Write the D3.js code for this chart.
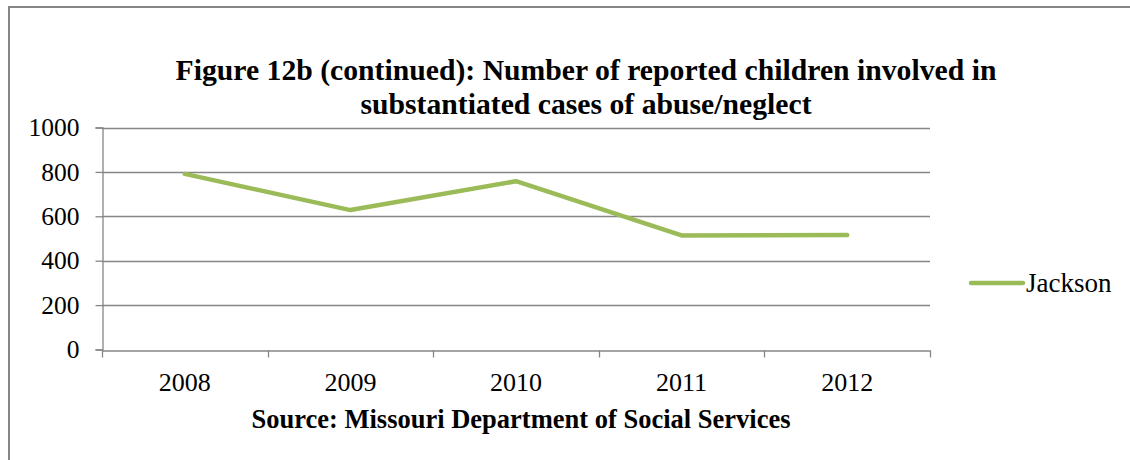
<!DOCTYPE html>
<html>
<head>
<meta charset="utf-8">
<script src="https://cdn.jsdelivr.net/npm/d3@7"></script>
<style>
  html, body { margin: 0; padding: 0; background: #fff; }
  svg { display: block; }
  text { font-family: "Liberation Serif", "Times New Roman", serif; fill: #000; }
</style>
</head>
<body>
<svg id="chart" width="1130" height="460"></svg>
<script>
// Children involved in substantiated abuse/neglect cases, Jackson county
const years = ["2008", "2009", "2010", "2011", "2012"];
const jackson = [791, 628, 758, 514, 516];
const yTicks = [0, 200, 400, 600, 800, 1000];
const seriesName = "Jackson";
const titleLines = [
  "Figure 12b (continued): Number of reported children involved in",
  "substantiated cases of abuse/neglect"
];
const sourceText = "Source: Missouri Department of Social Services";

const svg = d3.select("#chart");
const W = 1130, H = 460;
const plot = { left: 102, right: 930, top: 127.5, bottom: 349.5 };
const gridColor = "#868686";
const lineColor = "#9BBB59";
const serif = '"Liberation Serif", "Times New Roman", serif';

// outer chart frame
svg.append("rect")
  .attr("x", 9).attr("y", 7)
  .attr("width", W + 20).attr("height", H + 20)
  .attr("fill", "none")
  .attr("stroke", gridColor)
  .attr("stroke-width", 2);

const x = d3.scaleBand().domain(years).range([plot.left, plot.right]);
const y = d3.scaleLinear().domain([0, 1000]).range([plot.bottom, plot.top]);

// horizontal gridlines
svg.append("g")
  .selectAll("line")
  .data(yTicks.filter(d => d > 0))
  .join("line")
  .attr("x1", plot.left).attr("x2", plot.right)
  .attr("y1", d => Math.round(y(d)) + 0.5)
  .attr("y2", d => Math.round(y(d)) + 0.5)
  .attr("stroke", gridColor)
  .attr("stroke-width", 1.3);

// y axis
const yAxis = svg.append("g")
  .attr("transform", `translate(${plot.left + 0.5},0)`)
  .call(d3.axisLeft(y).tickValues(yTicks).tickSize(7).tickPadding(16).tickFormat(d3.format("d")));
yAxis.select(".domain").attr("stroke", gridColor).attr("stroke-width", 1.3);
yAxis.selectAll(".tick line").attr("stroke", gridColor).attr("stroke-width", 1.3);
yAxis.selectAll(".tick text")
  .style("font-family", serif)
  .style("font-size", "25.5px").attr("fill", "#000");

// x axis
const xAxis = svg.append("g")
  .attr("transform", `translate(0,${Math.round(plot.bottom) + 0.5})`)
  .call(d3.axisBottom(x).tickSize(0).tickPadding(22));
xAxis.select(".domain").attr("stroke", gridColor).attr("stroke-width", 1.3);
xAxis.selectAll(".tick text")
  .style("font-family", serif)
  .style("font-size", "26px").attr("fill", "#000");

// category boundary tick marks
const boundaries = years.map(d => x(d)).concat([x(years[years.length - 1]) + x.bandwidth()]);
xAxis.append("g")
  .selectAll("line")
  .data(boundaries)
  .join("line")
  .attr("x1", d => Math.round(d) + 0.5).attr("x2", d => Math.round(d) + 0.5)
  .attr("y1", 0).attr("y2", 7)
  .attr("stroke", gridColor)
  .attr("stroke-width", 1.3);

// data line
const line = d3.line()
  .x((d, i) => x(years[i]) + x.bandwidth() / 2)
  .y(d => y(d));
svg.append("path")
  .datum(jackson)
  .attr("d", line)
  .attr("fill", "none")
  .attr("stroke", lineColor)
  .attr("stroke-width", 4.5)
  .attr("stroke-linejoin", "round")
  .attr("stroke-linecap", "round");

// title
svg.append("text")
  .attr("text-anchor", "middle")
  .style("font-size", "29.7px")
  .style("font-weight", "bold")
  .selectAll("tspan")
  .data(titleLines)
  .join("tspan")
  .attr("x", 586)
  .attr("y", (d, i) => 80 + i * 34)
  .text(d => d);

// source caption
svg.append("text")
  .attr("x", (plot.left + plot.right) / 2 + 5)
  .attr("y", 428)
  .attr("text-anchor", "middle")
  .style("font-size", "26.5px")
  .style("font-weight", "bold")
  .text(sourceText);

// legend
const legend = svg.append("g").attr("transform", "translate(971,283)");
legend.append("line")
  .attr("x1", 0).attr("x2", 52)
  .attr("y1", 0).attr("y2", 0)
  .attr("stroke", lineColor)
  .attr("stroke-width", 4.5)
  .attr("stroke-linecap", "round");
legend.append("text")
  .attr("x", 55).attr("y", 9)
  .style("font-size", "27px")
  .text(seriesName);
</script>
</body>
</html>
